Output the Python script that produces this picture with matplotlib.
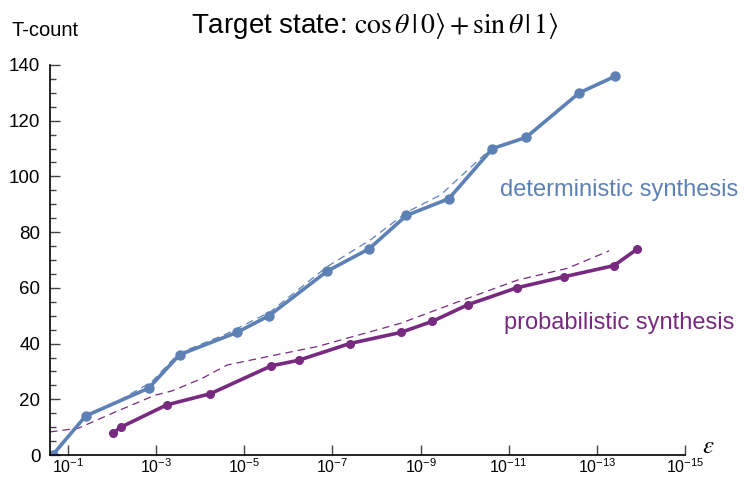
import matplotlib
matplotlib.use("Agg")
import matplotlib.pyplot as plt
from matplotlib.ticker import FixedLocator, MultipleLocator

plt.rcParams["font.family"] = ["Liberation Sans", "DejaVu Sans"]
plt.rcParams["mathtext.fontset"] = "custom"
plt.rcParams["mathtext.rm"] = "Liberation Sans"
plt.rcParams["mathtext.it"] = "Liberation Sans:italic"

# deterministic synthesis (solid, markers)
det_eps = [0.224, 4.0e-2, 1.48e-3, 2.95e-4, 1.48e-5, 2.75e-6, 1.32e-7,
           1.48e-8, 2.09e-9, 2.29e-10, 2.34e-11, 4.07e-12, 2.51e-13, 3.80e-14]
det_t = [0, 14, 24, 36, 44, 50, 66, 74, 86, 92, 110, 114, 130, 136]

# deterministic synthesis (dashed trend)
det_fit_eps = [4.0e-2, 1.02e-2, 1.26e-3, 3.09e-4, 2.69e-5, 2.57e-6, 1.32e-7,
               1.38e-8, 2.0e-9, 3.55e-10, 3.63e-11, 2.34e-11]
det_fit_t = [14, 18, 26.3, 36.5, 43.3, 51.4, 67.6, 77.2, 87.3, 93.3, 107.7, 110]

# probabilistic synthesis (solid, markers)
prob_eps = [9.33e-3, 6.31e-3, 5.75e-4, 5.89e-5, 2.45e-6, 5.89e-7, 4.07e-8,
            2.82e-9, 5.37e-10, 8.32e-11, 6.61e-12, 5.50e-13, 4.07e-14, 1.20e-14]
prob_t = [8, 10, 18, 22, 32, 34, 40, 44, 48, 54, 60, 64, 68, 74]

# probabilistic synthesis (dashed trend)
prob_fit_eps = [0.257, 5.89e-2, 1.02e-2, 1.05e-3, 4.37e-4, 9.12e-5, 2.45e-5,
                3.02e-6, 2.24e-7, 2.82e-9, 2.09e-10, 6.31e-12, 4.68e-13, 5.25e-14]
prob_fit_t = [8.3, 9.6, 14.9, 21.5, 23, 27.5, 32.3, 35.3, 38.9, 47.3, 54.0,
              62.8, 67, 73.3]

x_ticks = [1e-1, 1e-3, 1e-5, 1e-7, 1e-9, 1e-11, 1e-13, 1e-15]
x_tick_labels = [r"$\mathregular{10^{-%d}}$" % k for k in [1, 3, 5, 7, 9, 11, 13, 15]]

blue = "#5E81B5"
purple = "#782A80"

fig = plt.figure(figsize=(7.44, 4.79), dpi=100)
ax = fig.add_axes([50 / 744, 1 - 455 / 479, 635 / 744, 390 / 479])

ax.plot(det_fit_eps, det_fit_t, color=blue, lw=0.9, dashes=(6, 4))
ax.plot(prob_fit_eps, prob_fit_t, color=purple, lw=0.9, dashes=(6, 4))
ax.plot(det_eps, det_t, color=blue, lw=2.6, marker="o", ms=6.5)
ax.plot(prob_eps, prob_t, color=purple, lw=2.6, marker="o", ms=5.5)

ax.set_xscale("log")
ax.set_xlim(10 ** -0.59, 1e-15)
ax.set_ylim(0, 140)

ax.xaxis.set_major_locator(FixedLocator(x_ticks))
ax.set_xticklabels(x_tick_labels, fontsize=11.5)
ax.xaxis.set_minor_locator(FixedLocator([]))
ax.yaxis.set_major_locator(MultipleLocator(20))
ax.yaxis.set_minor_locator(MultipleLocator(5))
ax.tick_params(axis="y", labelsize=13.5)
ax.tick_params(which="major", direction="in", length=7, width=1, color="#444444", pad=7)
ax.tick_params(which="minor", direction="in", length=4, width=1, color="#444444")
ax.tick_params(axis="x", pad=2)

for side in ["top", "right"]:
    ax.spines[side].set_visible(False)
for side in ["left", "bottom"]:
    ax.spines[side].set_linewidth(1.2)

fig.text(375 / 744, 1 - 26 / 479,
         r"Target state: $\cos\theta\,|\,0\rangle + \sin\theta\,|\,1\rangle$",
         ha="center", va="center", fontsize=20, math_fontfamily="stix")
fig.text(11 / 744, 1 - 30 / 479, "T-count", ha="left", va="center", fontsize=14.5)
fig.text(708 / 744, 1 - 446 / 479, r"$\varepsilon$", ha="center", va="center",
         fontsize=18, math_fontfamily="stix")

ax.text(0.896, 95, "deterministic synthesis", transform=ax.get_yaxis_transform(),
        color=blue, fontsize=17, ha="center", va="center", clip_on=False)
ax.text(0.896, 47.5, "probabilistic synthesis", transform=ax.get_yaxis_transform(),
        color=purple, fontsize=17, ha="center", va="center", clip_on=False)

fig.savefig("out.png", dpi=100)
